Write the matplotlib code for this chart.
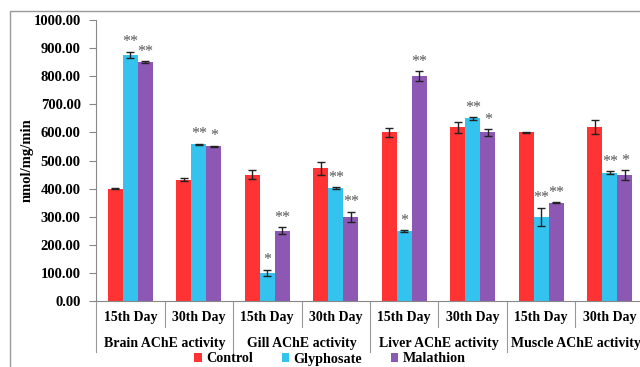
import numpy as np
import matplotlib
matplotlib.use("Agg")
from matplotlib import pyplot as plt
from matplotlib import transforms
from matplotlib.patches import Rectangle, Patch
from matplotlib.lines import Line2D

plt.rcParams['font.family'] = ['Liberation Serif', 'DejaVu Serif']
plt.rcParams['font.weight'] = 'bold'

# DATA
days = ["15th Day", "30th Day"] * 4
organs = ["Brain AChE activity", "Gill AChE activity", "Liver AChE activity", "Muscle AChE activity"]
series = ["Control", "Glyphosate", "Malathion"]

control = [400, 432, 450, 472, 600, 618, 600, 618]
glyphosate = [875, 557, 100, 402, 250, 650, 300, 457]
malathion = [850, 550, 250, 300, 800, 600, 350, 448]

control_err = [2, 4, 15, 23, 15, 20, 2, 25]
glyphosate_err = [12, 3, 12, 3, 3, 5, 32, 6]
malathion_err = [3, 2, 12, 18, 17, 12, 2, 18]

glyphosate_sig = ["**", "**", "*", "**", "*", "**", "**", "**"]
malathion_sig = ["**", "*", "**", "**", "**", "*", "**", "*"]

colors = ["#FF3333", "#33C3EE", "#8C58B4"]

# FIGURE
fig = plt.figure(figsize=(6.4, 3.67), dpi=100)
ax = fig.add_axes([96 / 640, 66 / 367, 548 / 640, 281 / 367])

x = np.arange(len(days))
w = 0.22
values = [control, glyphosate, malathion]
errs = [control_err, glyphosate_err, malathion_err]
for i in range(3):
    ax.bar(x + (i - 1) * w, values[i], w, color=colors[i], edgecolor='none',
           yerr=errs[i], capsize=3,
           error_kw=dict(ecolor='#222222', elinewidth=1, capthick=1))

# significance stars
for i, sig in ((1, glyphosate_sig), (2, malathion_sig)):
    for j in range(len(days)):
        top = values[i][j] + errs[i][j]
        ax.annotate(sig[j], (x[j] + (i - 1) * w, top), xytext=(0, 1),
                    textcoords='offset points', ha='center', va='bottom',
                    fontsize=11.5, fontweight='normal', color='#555555')

ax.set_xlim(-0.5, len(days) - 0.5)
ax.set_ylim(0, 1000)
ax.set_yticks(np.arange(0, 1001, 100))
ax.set_yticklabels(["%.2f" % v for v in np.arange(0, 1001, 100)], fontsize=10.5,
                   fontweight='bold')
ax.set_xticks([])
ax.tick_params(axis='y', direction='out', length=5, color='#888888', pad=6)
for s in ['top', 'right']:
    ax.spines[s].set_visible(False)
for s in ['left', 'bottom']:
    ax.spines[s].set_color('#888888')
ax.set_ylabel("nmol/mg/min", fontsize=10.5, fontweight='bold', labelpad=0)

# category labels under the axis
trans = transforms.blended_transform_factory(ax.transData, ax.transAxes)
h = 281.0
for j, d in enumerate(days):
    ax.text(x[j], -17 / h, d, transform=trans, ha='center', va='center', fontsize=10)
for k, o in enumerate(organs):
    ax.text(2 * k + 0.5, -42 / h, o, transform=trans, ha='center', va='center', fontsize=10)
for b in range(len(days) + 1):
    bx = b - 0.5
    depth = 51 if b % 2 == 0 else 26
    ax.add_line(Line2D([bx, bx], [0, -depth / h], transform=trans, color='#999999',
                       lw=0.8, clip_on=False))

# legend
handles = [Patch(facecolor=c, edgecolor='none') for c in colors]
fig.legend(handles, series, loc='center', bbox_to_anchor=(330 / 640, 8 / 367), ncol=3,
           frameon=False, fontsize=10.2, handlelength=0.55, handleheight=0.55,
           handletextpad=0.3, columnspacing=2.0, borderpad=0)

# chart border
fig.patches.append(Rectangle((9.5 / 640, -0.1), 1.0, 1.1 - 11 / 367, transform=fig.transFigure,
                             fill=False, edgecolor='#999999', lw=1))

plt.savefig("out.png", dpi=100)
